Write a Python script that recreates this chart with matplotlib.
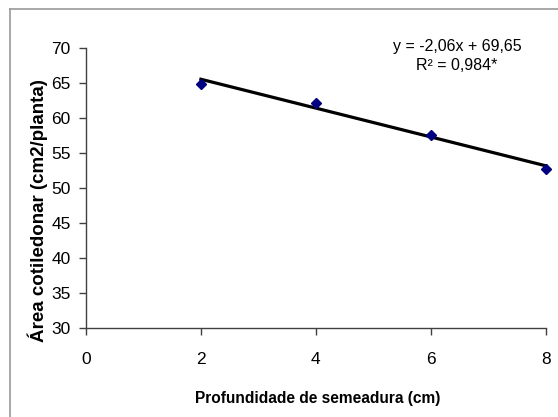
import numpy as np
import matplotlib.pyplot as plt
from matplotlib.lines import Line2D

plt.rcParams['font.family'] = ['Liberation Sans', 'DejaVu Sans']

# data
depth = [2, 4, 6, 8]
area = [64.8, 62.1, 57.5, 52.7]

# trendline as printed on the chart
slope = -2.06
intercept = 69.65
eq_label = "y = -2,06x + 69,65"
r2_label = "R² = 0,984*"

xticks = [0, 2, 4, 6, 8]
yticks = [30, 35, 40, 45, 50, 55, 60, 65, 70]


def main():
    fig = plt.figure(figsize=(5.58, 4.17), dpi=100)
    ax = fig.add_axes([0.154, 0.2134, 0.824, 0.6716])

    xs = np.array([min(depth), max(depth)])
    ax.plot(xs, slope * xs + intercept, color='black', lw=2.3, zorder=2,
            clip_on=False)
    ax.plot(depth, area, linestyle='none', marker='D', markersize=5.5,
            color='#000080', zorder=3, clip_on=False)

    ax.set_xlim(0, 8)
    ax.set_ylim(30, 70)
    ax.set_xticks(xticks)
    ax.set_yticks(yticks)
    ax.tick_params(axis='both', direction='out', length=5, width=1,
                   color='#404040', labelsize=12.5)
    ax.tick_params(axis='x', pad=12)
    ax.tick_params(axis='y', pad=6)
    for side in ['top', 'right']:
        ax.spines[side].set_visible(False)
    for side in ['left', 'bottom']:
        ax.spines[side].set_color('#404040')
        ax.spines[side].set_linewidth(1)

    ax.set_xlabel("Profundidade de semeadura (cm)", fontsize=11.2,
                  fontweight='bold')
    ax.xaxis.set_label_coords(0.503, -0.224)
    ax.set_ylabel("Área cotiledonar (cm2/planta)", fontsize=13.5,
                  fontweight='bold')
    ax.yaxis.set_label_coords(-0.083, 0.421)

    ax.text(0.807, 0.971, eq_label + "\n" + r2_label, transform=ax.transAxes,
            ha='center', va='center', fontsize=11.5, linespacing=1.3)

    # outer chart frame (only top and left edges visible)
    fig.add_artist(Line2D([0.018, 1.0], [0.978, 0.978], color='#999999', lw=1.2))
    fig.add_artist(Line2D([0.018, 0.018], [0.0, 0.978], color='#999999', lw=1.2))

    fig.savefig("out.png", dpi=100)
    plt.close(fig)


if __name__ == "__main__":
    main()
